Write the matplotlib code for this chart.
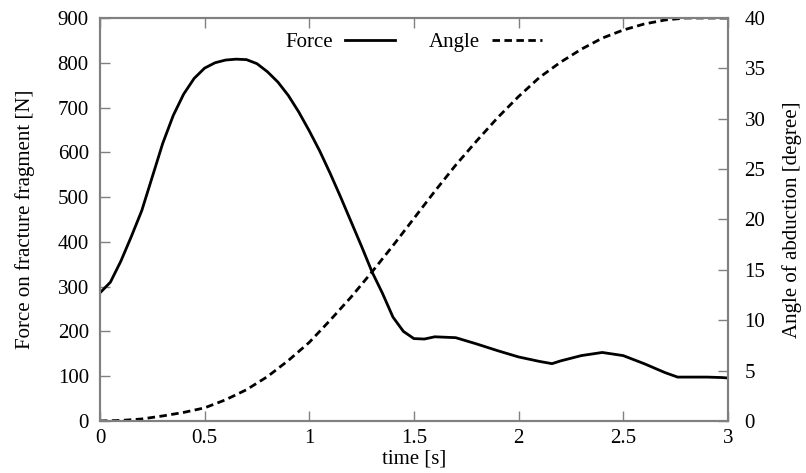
import matplotlib
matplotlib.use("Agg")
import matplotlib.pyplot as plt

plt.rcParams['font.family'] = ['Liberation Serif', 'DejaVu Serif']

# force on the fracture fragment [N]
t_force = [0, 0.05, 0.1, 0.15, 0.2, 0.25, 0.3, 0.35, 0.4, 0.45, 0.5, 0.55, 0.6,
           0.65, 0.7, 0.75, 0.8, 0.85, 0.9, 0.95, 1.0, 1.05, 1.1, 1.15, 1.2,
           1.25, 1.3, 1.35, 1.4, 1.45, 1.5, 1.55, 1.6, 1.7, 1.8, 1.9, 2.0, 2.1,
           2.16, 2.2, 2.3, 2.4, 2.5, 2.6, 2.7, 2.76, 2.8, 2.9, 2.97, 3.0]
force = [286, 310, 357, 412, 470, 545, 620, 682, 730, 765, 788, 800, 806,
         808, 807, 798, 780, 757, 727, 690, 648, 603, 553, 500, 445,
         390, 333, 285, 232, 200, 184, 183, 188, 186, 172, 157, 143, 133,
         128, 134, 146, 153, 146, 128, 108, 98, 98, 98, 97, 96]

# angle of abduction [degree]
t_angle = [0, 0.1, 0.2, 0.3, 0.4, 0.5, 0.6, 0.7, 0.8, 0.9, 1.0, 1.1, 1.2, 1.3,
           1.4, 1.5, 1.6, 1.7, 1.8, 1.9, 2.0, 2.1, 2.2, 2.3, 2.4, 2.5, 2.6,
           2.7, 2.8, 2.9, 3.0]
angle = [0, 0.05, 0.2, 0.5, 0.85, 1.3, 2.1, 3.1, 4.4, 6.0, 7.8, 10.0, 12.3, 14.8,
         17.4, 20.1, 22.8, 25.4, 27.8, 30.1, 32.2, 34.1, 35.6, 36.9, 38.0, 38.8,
         39.4, 39.8, 40.0, 40.0, 40.0]

fs = 15
grey = '#808080'

fig = plt.figure(figsize=(8.06, 4.73), dpi=100)
ax = fig.add_axes([0.124, 0.110, 0.779, 0.852])
ax2 = ax.twinx()

l1, = ax.plot(t_force, force, color='black', lw=2, label='Force')
l2, = ax2.plot(t_angle, angle, color='black', lw=2, ls=(0, (2.7, 1.6)), label='Angle')

ax.set_xlim(0, 3)
ax.set_ylim(0, 900)
ax2.set_ylim(0, 40)
ax.set_xticks([0, 0.5, 1, 1.5, 2, 2.5, 3])
ax.set_xticklabels(['0', '0.5', '1', '1.5', '2', '2.5', '3'])
ax.set_yticks(range(0, 901, 100))
ax2.set_yticks(range(0, 41, 5))

ax.tick_params(axis='x', direction='in', top=True, length=7, width=1, color=grey,
               labelsize=fs, pad=6)
ax.tick_params(axis='y', direction='in', right=False, length=7, width=1, color=grey,
               labelsize=fs, pad=8)
ax2.tick_params(axis='y', direction='in', length=7, width=1, color=grey,
                labelsize=fs, pad=12)

for a in (ax, ax2):
    for s in a.spines.values():
        s.set_color(grey)
        s.set_linewidth(1.5)

ax.set_xlabel('time [s]', fontsize=fs, labelpad=1)
ax.set_ylabel('Force on fracture fragment [N]', fontsize=fs, labelpad=16)
ax2.set_ylabel('Angle of abduction [degree]', fontsize=fs, labelpad=12)

ax.legend(handles=[l1, l2], loc='upper center', ncol=2, frameon=False,
          markerfirst=False, fontsize=fs, handlelength=2.4, handletextpad=0.6,
          columnspacing=1.6, bbox_to_anchor=(0.5, 1.0), borderaxespad=0.3)

fig.savefig('out.png', dpi=100)
